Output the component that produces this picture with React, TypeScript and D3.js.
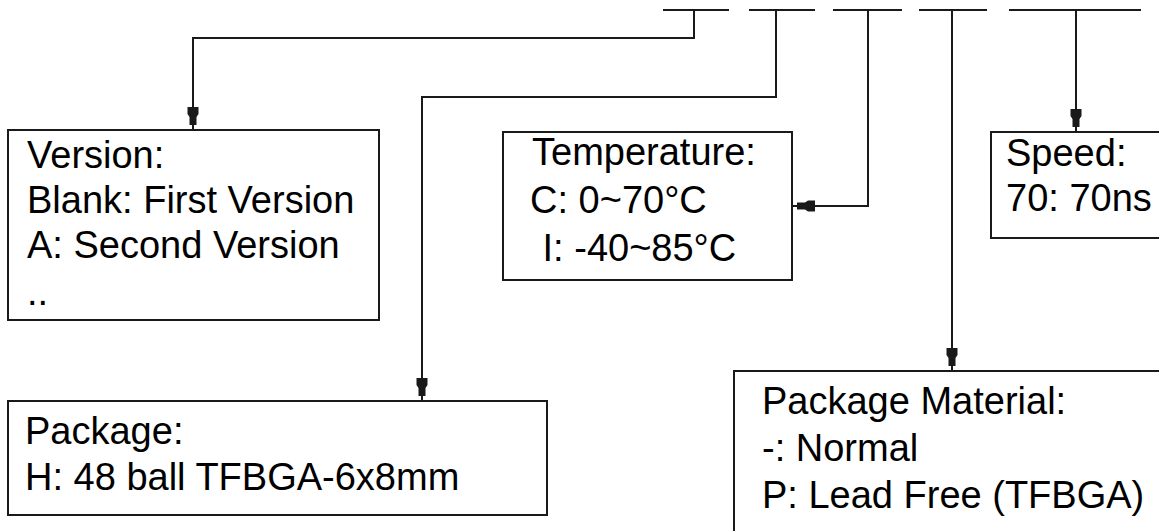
import React from "react";
import * as d3 from "d3";

// Part-number fields (top dashes) and their descriptions
const fieldNames = ["Version", "Package", "Temperature", "Package Material", "Speed"];

const versionLines = ["Version:", "Blank: First Version", "A: Second Version", ".."];
const packageLines = ["Package:", "H: 48 ball TFBGA-6x8mm"];
const temperatureLines = ["Temperature:", "C: 0~70°C", " I: -40~85°C"];
const speedLines = ["Speed:", "70: 70ns"];
const materialLines = ["Package Material:", "-: Normal", "P: Lead Free (TFBGA)"];

// Layout (pixel geometry of the diagram)
const dashes: [number, number][] = [
  [663, 729],
  [749, 815],
  [833, 902],
  [919, 987],
  [1009, 1141],
];
const dashY = 10;

type Box = { x: number; y: number; w: number; h: number; lines: string[]; tx: number[]; ty: number[] };
const boxes: Box[] = [
  { x: 8, y: 130, w: 371, h: 190, lines: versionLines, tx: [27, 27, 27, 27], ty: [168, 213, 258, 305] },
  { x: 8, y: 401, w: 539, h: 114, lines: packageLines, tx: [25, 25], ty: [444, 490] },
  { x: 503, y: 132, w: 289, h: 148, lines: temperatureLines, tx: [532, 530, 532], ty: [165, 213, 261] },
  { x: 991, y: 132, w: 200, h: 106, lines: speedLines, tx: [1006, 1006], ty: [166, 211] },
  { x: 734, y: 371, w: 460, h: 200, lines: materialLines, tx: [762, 762, 762], ty: [414, 461, 508] },
];

// connector polylines: from dash down to box
const connectors: { pts: [number, number][]; dir: "down" | "left" }[] = [
  { pts: [[694, dashY], [694, 38], [193, 38], [193, 130]], dir: "down" },
  { pts: [[776, dashY], [776, 97], [422, 97], [422, 401]], dir: "down" },
  { pts: [[868, dashY], [868, 206], [792, 206]], dir: "left" },
  { pts: [[952, dashY], [952, 371]], dir: "down" },
  { pts: [[1076, dashY], [1076, 132]], dir: "down" },
];

const stroke = "#1a1a1a";
const font = "'Liberation Sans', Arial, Helvetica, sans-serif";

function arrowPath(tip: [number, number], dir: "down" | "left") {
  // defined pointing down with tip at (0,0)
  const raw: [number, number][] = [
    [-5.5, -23], [5.5, -23], [5.5, -16], [3.5, -13], [3.5, -5], [-3.5, -5], [-3.5, -13], [-5.5, -16],
  ];
  const pts = raw.map(([a, b]) =>
    dir === "down" ? [tip[0] + a, tip[1] + b] : [tip[0] - b, tip[1] + a]
  ) as [number, number][];
  return (d3.line()(pts) || "") + "Z";
}

export default function App() {
  const line = d3.line<[number, number]>().curve(d3.curveLinear);
  return (
    <svg
      width={1159}
      height={531}
      style={{ position: "absolute", left: 0, top: 0, background: "#fff" }}
      aria-label={fieldNames.join(", ")}
    >
      <rect x={0} y={0} width={1159} height={531} fill="#fff" />
      {dashes.map(([a, b], i) => (
        <line key={"d" + i} x1={a} x2={b} y1={dashY} y2={dashY} stroke={stroke} strokeWidth={2} />
      ))}
      {connectors.map((c, i) => (
        <g key={"c" + i}>
          <path d={line(c.pts) || ""} fill="none" stroke={stroke} strokeWidth={2} />
          <path d={arrowPath(c.pts[c.pts.length - 1], c.dir)} fill={stroke} />
        </g>
      ))}
      {boxes.map((b, i) => (
        <g key={"b" + i}>
          <rect x={b.x} y={b.y} width={b.w} height={b.h} fill="none" stroke={stroke} strokeWidth={2} />
          {b.lines.map((t, j) => (
            <text
              key={j}
              x={b.tx[j]}
              y={b.ty[j]}
              fontFamily={font}
              fontSize={38}
              fill="#000"
              style={{ whiteSpace: "pre" }}
            >
              {t}
            </text>
          ))}
        </g>
      ))}
    </svg>
  );
}
